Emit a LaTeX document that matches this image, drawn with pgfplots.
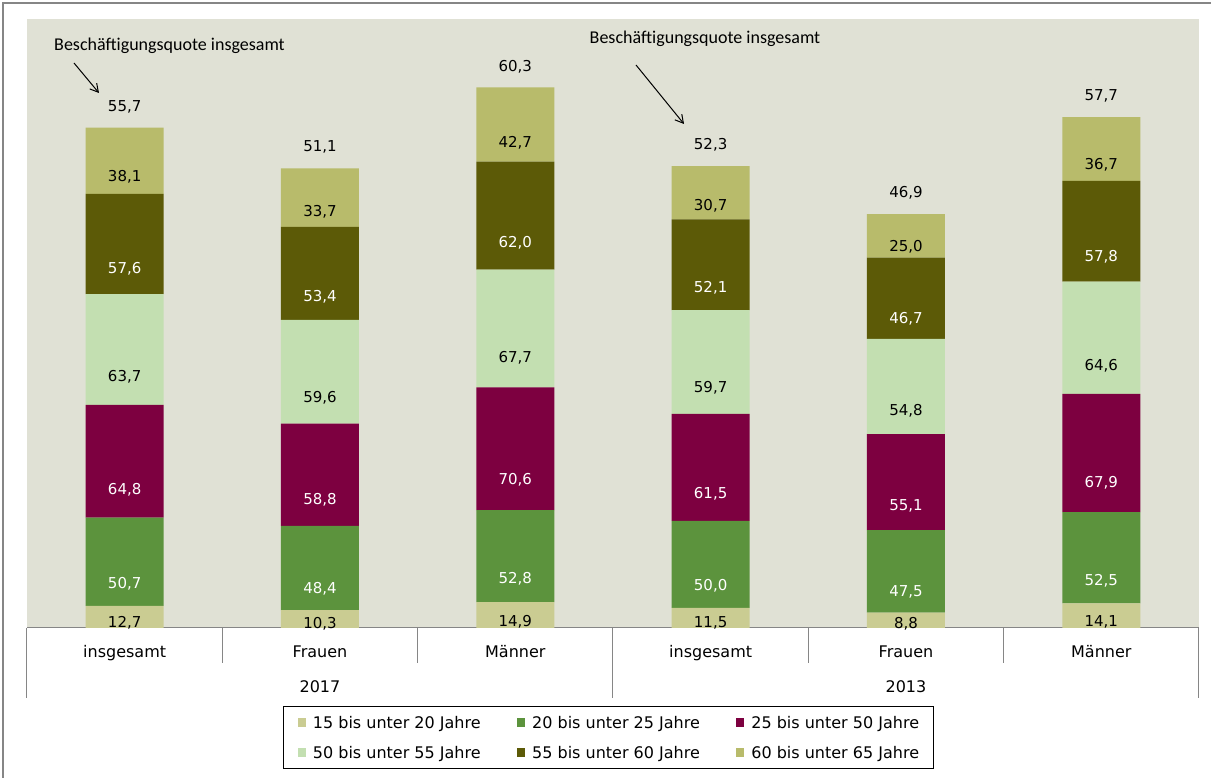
\documentclass[border=0pt]{standalone}
\usepackage{pgfplots}
\pgfplotsset{compat=1.18}
\usepackage{pgfplotstable}
\usepackage{fontspec}
\setmainfont{DejaVu Sans}
\newfontfamily\calib{Carlito}
\usetikzlibrary{arrows.meta}

\definecolor{cA}{HTML}{CACC92}
\definecolor{cB}{HTML}{5C933D}
\definecolor{cC}{HTML}{7D0040}
\definecolor{cD}{HTML}{C3DFB1}
\definecolor{cE}{HTML}{5C5A07}
\definecolor{cF}{HTML}{B8BB6B}
\definecolor{bgc}{HTML}{E0E1D5}
\definecolor{framec}{HTML}{868686}

\pgfplotstableread{
x a b c d e f q
0 12.7 50.7 64.8 63.7 57.6 38.1 55.7
1 10.3 48.4 58.8 59.6 53.4 33.7 51.1
2 14.9 52.8 70.6 67.7 62.0 42.7 60.3
3 11.5 50.0 61.5 59.7 52.1 30.7 52.3
4 8.8 47.5 55.1 54.8 46.7 25.0 46.9
5 14.1 52.5 67.9 64.6 57.8 36.7 57.7
}\data

\newcommand\numfont{\fontsize{15}{18}\selectfont}
\newcommand\labfont{\fontsize{16}{19}\selectfont}

\pgfplotsset{
  seglab/.style={nodes near coords, point meta=explicit,
    visualization depends on={rawy\as\segh},
    every node near coord/.style={font=\numfont, text=#1, anchor=center,
      shift={(axis direction cs:0,-\segh/4)}}},
  sqleg/.style={legend image code/.code={\fill[##1] (0pt,-4.5pt) rectangle (8pt,4.5pt);}},
}

\begin{document}
\begin{tikzpicture}[x=1pt,y=1pt]
\path[use as bounding box] (0,0) rectangle (1211,778);
\draw[framec, line width=1.2pt] (3,0) -- (3,775) -- (1211,775);
\begin{axis}[
  at={(27pt,150pt)}, anchor=south west,
  width=1172pt, height=609pt, scale only axis,
  xmin=-0.5, xmax=5.5, ymin=0, ymax=350,
  ybar stacked, bar width=78pt,
  axis background/.style={fill=bgc},
  axis line style={draw=none},
  ytick=\empty,
  xtick={0,1,2,3,4,5},
  xticklabels={insgesamt,Frauen,Männer,insgesamt,Frauen,Männer},
  major tick length=0pt,
  xticklabel style={font=\labfont, anchor=base, yshift=-30pt},
  clip=false,
  /pgf/number format/fixed,
  /pgf/number format/fixed zerofill,
  /pgf/number format/precision=1,
  /pgf/number format/use comma,
  /pgf/number format/assume math mode=true,
  legend columns=3,
  legend cell align=left,
  legend style={at={(axis description cs:0.4962,-0.1281)}, anchor=north,
    draw=black, line width=1pt, inner xsep=14pt, inner ysep=10pt, row sep=18pt,
    font=\labfont,
    /tikz/every odd column/.append style={column sep=7pt},
    /tikz/every even column/.append style={column sep=36.5pt},
    nodes={inner sep=0pt, text height=12pt, text depth=0pt}},
]
\addplot[fill=cA, draw=none, seglab=black, sqleg] table[x=x, y=a, meta=a]{\data};
\addplot[fill=cB, draw=none, seglab=white, sqleg] table[x=x, y=b, meta=b]{\data};
\addplot[fill=cC, draw=none, seglab=white, sqleg] table[x=x, y=c, meta=c]{\data};
\addplot[fill=cD, draw=none, seglab=black, sqleg] table[x=x, y=d, meta=d]{\data};
\addplot[fill=cE, draw=none, seglab=white, sqleg] table[x=x, y=e, meta=e]{\data};
\addplot[fill=cF, draw=none, sqleg, nodes near coords, point meta=explicit,
  visualization depends on={rawy\as\segh},
  visualization depends on={\thisrow{q}\as\tot},
  every node near coord/.style={font=\numfont, text=black, anchor=center,
    shift={(axis direction cs:0,-\segh/4)},
    label={[font=\numfont, text=black, anchor=center, inner sep=0pt, yshift={1.305pt*\segh+21pt}]center:\pgfmathprintnumber{\tot}}}]
  table[x=x, y=f, meta=f]{\data};
\legend{15 bis unter 20 Jahre, 20 bis unter 25 Jahre, 25 bis unter 50 Jahre,
        50 bis unter 55 Jahre, 55 bis unter 60 Jahre, 60 bis unter 65 Jahre}
% category table lines
\draw[framec, line width=1pt] (axis cs:-0.5,0) -- (axis cs:5.5,0);
\draw[framec, line width=1pt] (axis cs:-0.5,0) -- ([yshift=-70pt]axis cs:-0.5,0);
\draw[framec, line width=1pt] (axis cs:2.5,0) -- ([yshift=-70pt]axis cs:2.5,0);
\draw[framec, line width=1pt] (axis cs:5.5,0) -- ([yshift=-70pt]axis cs:5.5,0);
\draw[framec, line width=1pt] (axis cs:0.5,0) -- ([yshift=-35pt]axis cs:0.5,0);
\draw[framec, line width=1pt] (axis cs:1.5,0) -- ([yshift=-35pt]axis cs:1.5,0);
\draw[framec, line width=1pt] (axis cs:3.5,0) -- ([yshift=-35pt]axis cs:3.5,0);
\draw[framec, line width=1pt] (axis cs:4.5,0) -- ([yshift=-35pt]axis cs:4.5,0);
\node[font=\labfont, anchor=base, yshift=-65pt] at (axis cs:1,0) {2017};
\node[font=\labfont, anchor=base, yshift=-65pt] at (axis cs:4,0) {2013};
\end{axis}
% annotations
\node[font=\calib\fontsize{18}{21}\selectfont] at (169.5,732) {Beschäftigungsquote insgesamt};
\draw[line width=1pt, -{Straight Barb[length=8pt,width=9pt]}] (74,715) -- (99,685);
\node[font=\calib\fontsize{18}{21}\selectfont] at (705,739) {Beschäftigungsquote insgesamt};
\draw[line width=1pt, -{Straight Barb[length=8pt,width=9pt]}] (636,713) -- (684,654);
\end{tikzpicture}
\end{document}
